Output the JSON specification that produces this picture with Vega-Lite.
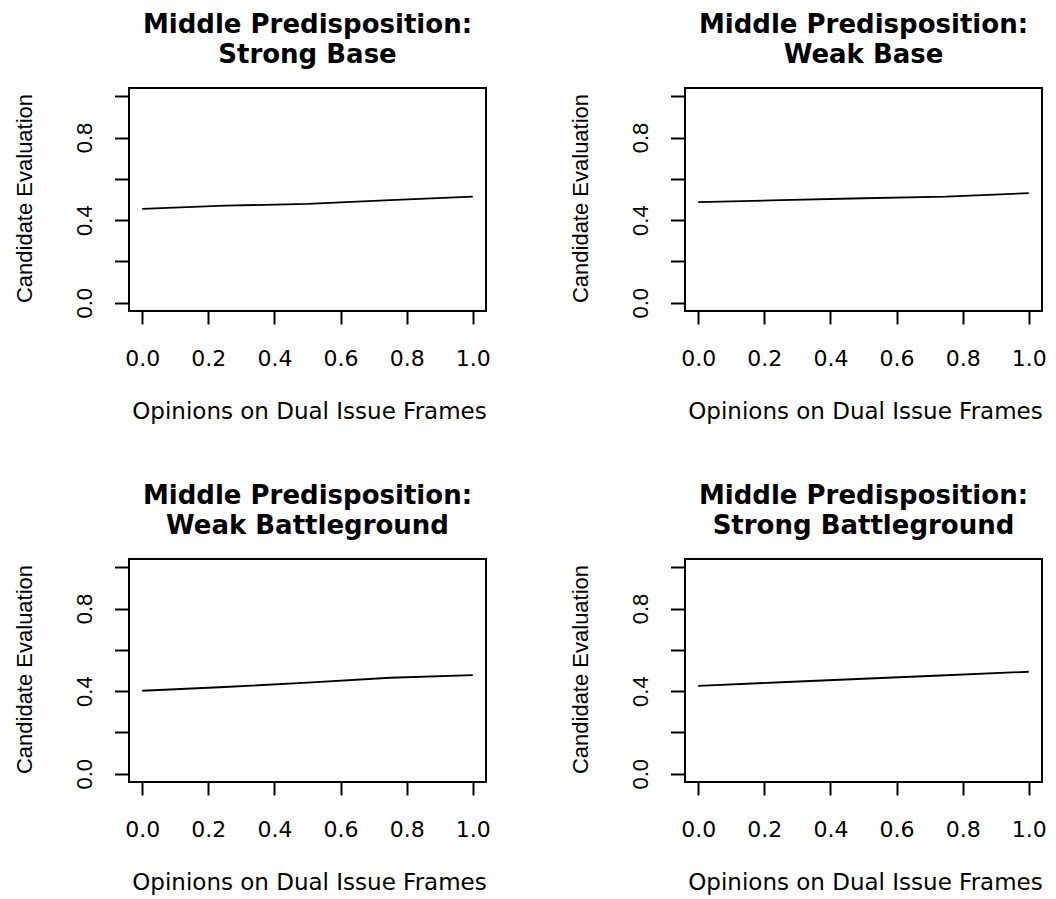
{
  "$schema": "https://vega.github.io/schema/vega-lite/v6.json",
  "background": "white",
  "autosize": {"type": "none"},
  "padding": {"left": 129, "top": 88, "right": 927, "bottom": 811},
  "config": {
    "view": {"stroke": "black", "strokeWidth": 2},
    "concat": {"spacing": 0},
    "axis": {
      "grid": false,
      "domain": false,
      "tickColor": "black",
      "tickWidth": 2,
      "labelColor": "black",
      "titleColor": "black",
      "labelOverlap": false,
      "labelFlush": false,
      "titleFontWeight": "normal"
    },
    "axisX": {
      "tickSize": 13,
      "labelFont": "DejaVu Sans",
      "labelFontSize": 22,
      "labelBaseline": "alphabetic",
      "labelPadding": 41,
      "titleFont": "DejaVu Sans",
      "titleFontSize": 23,
      "titleBaseline": "alphabetic",
      "titleAlign": "center",
      "titleY": 107,
      "titleX": 180
    },
    "axisY": {
      "tickSize": 14.5,
      "labelFont": "Liberation Sans",
      "labelFontSize": 22,
      "labelAngle": 270,
      "labelAlign": "center",
      "labelBaseline": "alphabetic",
      "labelPadding": 23,
      "titleFont": "Liberation Sans",
      "titleFontSize": 22,
      "titleAngle": 270,
      "titleAlign": "center",
      "titleBaseline": "alphabetic",
      "titleX": -98,
      "titleY": 110
    },
    "title": {
      "font": "DejaVu Sans",
      "fontSize": 26,
      "fontWeight": "bold",
      "color": "black",
      "anchor": "middle",
      "baseline": "bottom",
      "lineHeight": 30,
      "offset": 20,
      "frame": "group"
    }
  },
  "data": {
    "values": [
      {"panel": "Strong Base", "x": 0, "y": 0.455},
      {"panel": "Strong Base", "x": 0.25, "y": 0.470},
      {"panel": "Strong Base", "x": 0.5, "y": 0.479},
      {"panel": "Strong Base", "x": 0.75, "y": 0.497},
      {"panel": "Strong Base", "x": 1, "y": 0.514},
      {"panel": "Weak Base", "x": 0, "y": 0.487},
      {"panel": "Weak Base", "x": 0.25, "y": 0.497},
      {"panel": "Weak Base", "x": 0.5, "y": 0.506},
      {"panel": "Weak Base", "x": 0.75, "y": 0.514},
      {"panel": "Weak Base", "x": 1, "y": 0.531},
      {"panel": "Weak Battleground", "x": 0, "y": 0.402},
      {"panel": "Weak Battleground", "x": 0.25, "y": 0.420},
      {"panel": "Weak Battleground", "x": 0.5, "y": 0.441},
      {"panel": "Weak Battleground", "x": 0.75, "y": 0.465},
      {"panel": "Weak Battleground", "x": 1, "y": 0.478},
      {"panel": "Strong Battleground", "x": 0, "y": 0.426},
      {"panel": "Strong Battleground", "x": 0.25, "y": 0.443},
      {"panel": "Strong Battleground", "x": 0.5, "y": 0.460},
      {"panel": "Strong Battleground", "x": 0.75, "y": 0.477},
      {"panel": "Strong Battleground", "x": 1, "y": 0.494}
    ]
  },
  "columns": 2,
  "bounds": "flush",
  "spacing": {"row": 248, "column": 199},
  "concat": [
    {
      "title": {"text": ["Middle Predisposition:", "Strong Base"]},
      "width": 357, "height": 223,
      "transform": [{"filter": "datum.panel == 'Strong Base'"}],
      "mark": {"type": "line", "color": "black", "strokeWidth": 1.8},
      "encoding": {
        "x": {"field": "x", "type": "quantitative", "scale": {"domain": [-0.04, 1.04], "nice": false, "zero": false}, "axis": {"title": "Opinions on Dual Issue Frames", "values": [0, 0.2, 0.4, 0.6, 0.8, 1], "format": ".1f"}},
        "y": {"field": "y", "type": "quantitative", "scale": {"domain": [-0.04, 1.04], "nice": false, "zero": false}, "axis": {"title": "Candidate Evaluation", "values": [0, 0.2, 0.4, 0.6, 0.8, 1], "labelExpr": "(datum.value == 0 || datum.value == 0.4 || datum.value == 0.8) ? format(datum.value, '.1f') : ''"}}
      }
    },
    {
      "title": {"text": ["Middle Predisposition:", "Weak Base"]},
      "width": 357, "height": 223,
      "transform": [{"filter": "datum.panel == 'Weak Base'"}],
      "mark": {"type": "line", "color": "black", "strokeWidth": 1.8},
      "encoding": {
        "x": {"field": "x", "type": "quantitative", "scale": {"domain": [-0.04, 1.04], "nice": false, "zero": false}, "axis": {"title": "Opinions on Dual Issue Frames", "values": [0, 0.2, 0.4, 0.6, 0.8, 1], "format": ".1f"}},
        "y": {"field": "y", "type": "quantitative", "scale": {"domain": [-0.04, 1.04], "nice": false, "zero": false}, "axis": {"title": "Candidate Evaluation", "values": [0, 0.2, 0.4, 0.6, 0.8, 1], "labelExpr": "(datum.value == 0 || datum.value == 0.4 || datum.value == 0.8) ? format(datum.value, '.1f') : ''"}}
      }
    },
    {
      "title": {"text": ["Middle Predisposition:", "Weak Battleground"]},
      "width": 357, "height": 223,
      "transform": [{"filter": "datum.panel == 'Weak Battleground'"}],
      "mark": {"type": "line", "color": "black", "strokeWidth": 1.8},
      "encoding": {
        "x": {"field": "x", "type": "quantitative", "scale": {"domain": [-0.04, 1.04], "nice": false, "zero": false}, "axis": {"title": "Opinions on Dual Issue Frames", "values": [0, 0.2, 0.4, 0.6, 0.8, 1], "format": ".1f"}},
        "y": {"field": "y", "type": "quantitative", "scale": {"domain": [-0.04, 1.04], "nice": false, "zero": false}, "axis": {"title": "Candidate Evaluation", "values": [0, 0.2, 0.4, 0.6, 0.8, 1], "labelExpr": "(datum.value == 0 || datum.value == 0.4 || datum.value == 0.8) ? format(datum.value, '.1f') : ''"}}
      }
    },
    {
      "title": {"text": ["Middle Predisposition:", "Strong Battleground"]},
      "width": 357, "height": 223,
      "transform": [{"filter": "datum.panel == 'Strong Battleground'"}],
      "mark": {"type": "line", "color": "black", "strokeWidth": 1.8},
      "encoding": {
        "x": {"field": "x", "type": "quantitative", "scale": {"domain": [-0.04, 1.04], "nice": false, "zero": false}, "axis": {"title": "Opinions on Dual Issue Frames", "values": [0, 0.2, 0.4, 0.6, 0.8, 1], "format": ".1f"}},
        "y": {"field": "y", "type": "quantitative", "scale": {"domain": [-0.04, 1.04], "nice": false, "zero": false}, "axis": {"title": "Candidate Evaluation", "values": [0, 0.2, 0.4, 0.6, 0.8, 1], "labelExpr": "(datum.value == 0 || datum.value == 0.4 || datum.value == 0.8) ? format(datum.value, '.1f') : ''"}}
      }
    }
  ]
}
